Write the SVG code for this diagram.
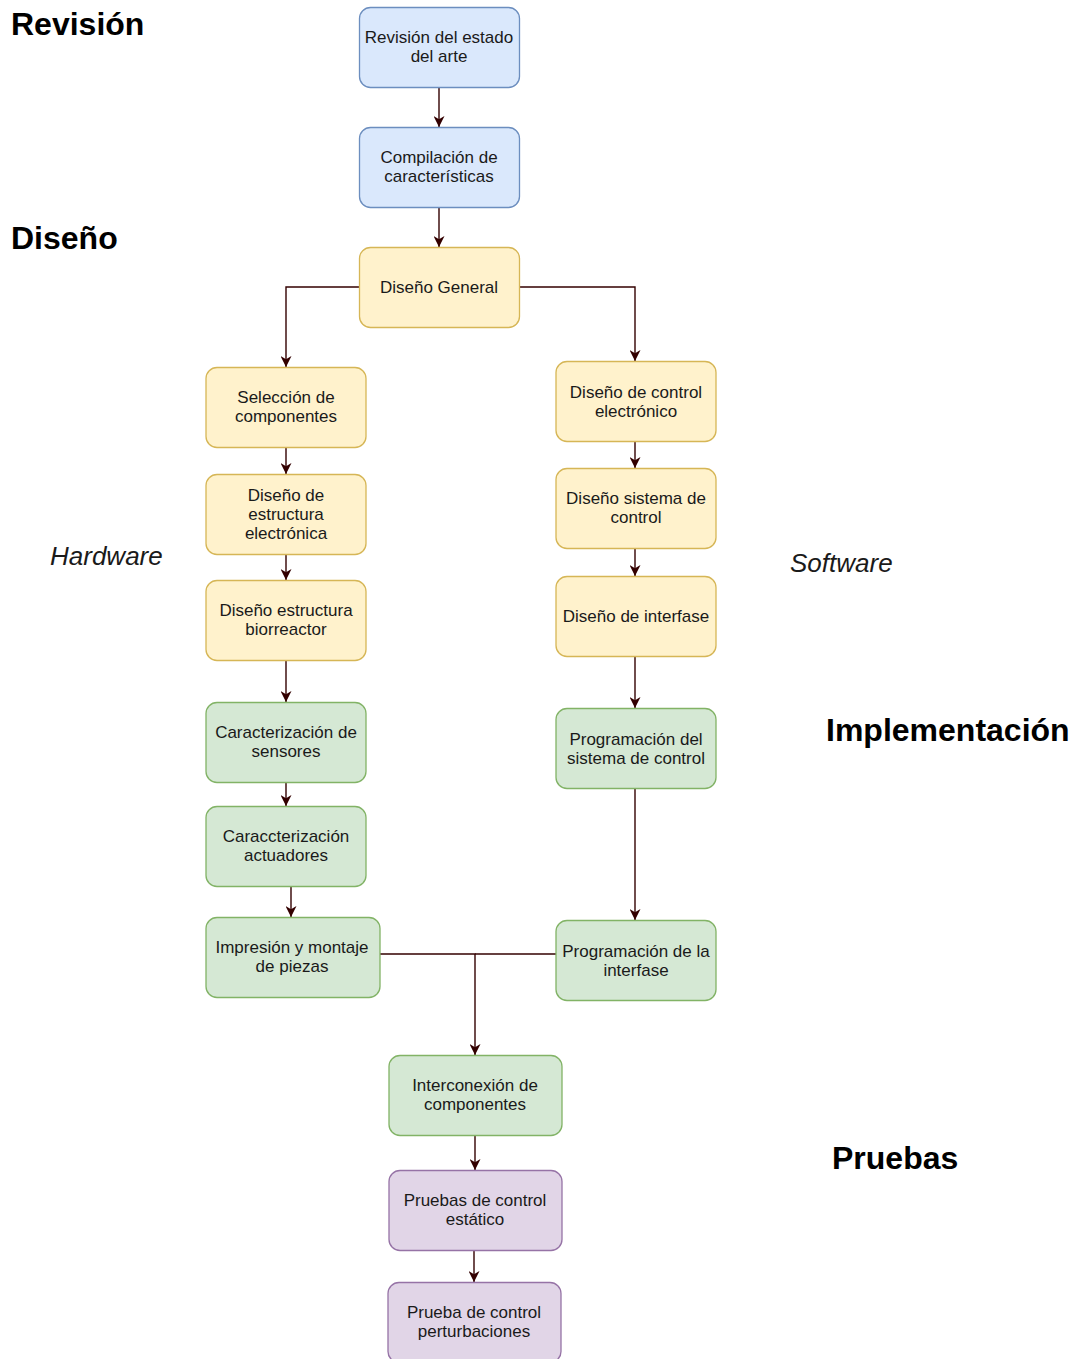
<svg xmlns="http://www.w3.org/2000/svg" width="1078" height="1359" viewBox="0 0 1078 1359">
<style>
.n rect{stroke-width:1.3}
.blue rect{fill:#dae8fc;stroke:#6c8ebf}
.yel rect{fill:#fff2cc;stroke:#d6b656}
.grn rect{fill:#d5e8d4;stroke:#82b366}
.pur rect{fill:#e1d5e7;stroke:#9673a6}
.n text{font-family:"Liberation Sans",Arial,sans-serif;font-size:17px;fill:#1a1a1a;text-anchor:middle}
.h{font-family:"Liberation Sans",Arial,sans-serif;font-size:32px;font-weight:bold;fill:#000}
.it{font-family:"Liberation Sans",Arial,sans-serif;font-size:26px;font-style:italic;fill:#1a1a1a}
#edges path{fill:none;stroke:#330000;stroke-width:1.4}
</style>
<defs>
<marker id="arr" viewBox="0 0 10 10" refX="10" refY="5" markerWidth="11" markerHeight="11" markerUnits="userSpaceOnUse" orient="auto">
<path d="M0,0 L10,5 L0,10 L3,5 Z" fill="#330000"/>
</marker>
</defs>
<rect width="1078" height="1359" fill="#fff"/>

<text class="h" x="11" y="35">Revisión</text>
<text class="h" x="11" y="249">Diseño</text>
<text class="it" x="50" y="565">Hardware</text>
<text class="it" x="790" y="572">Software</text>
<text class="h" x="826" y="741">Implementación</text>
<text class="h" x="832" y="1169">Pruebas</text>

<g id="edges">
<path d="M439,87 V127" marker-end="url(#arr)"/>
<path d="M439,207 V247" marker-end="url(#arr)"/>
<path d="M359,287 H286 V367" marker-end="url(#arr)"/>
<path d="M520,287 H635 V361" marker-end="url(#arr)"/>
<path d="M286,447 V474" marker-end="url(#arr)"/>
<path d="M286,554 V580" marker-end="url(#arr)"/>
<path d="M286,660 V702" marker-end="url(#arr)"/>
<path d="M286,782 V806" marker-end="url(#arr)"/>
<path d="M291,886 V917" marker-end="url(#arr)"/>
<path d="M635,441 V468" marker-end="url(#arr)"/>
<path d="M635,548 V576" marker-end="url(#arr)"/>
<path d="M635,656 V708" marker-end="url(#arr)"/>
<path d="M635,788 V920" marker-end="url(#arr)"/>
<path d="M380,954 H475 V1055" marker-end="url(#arr)"/>
<path d="M556,954 H475"/>
<path d="M475,1135 V1170" marker-end="url(#arr)"/>
<path d="M474,1250 V1282" marker-end="url(#arr)"/>
</g>

<g id="n1" class="n blue"><rect x="359.5" y="7.5" width="160" height="80" rx="11"/><text x="439" y="43">Revisión del estado</text><text x="439" y="62">del arte</text></g>
<g id="n2" class="n blue"><rect x="359.5" y="127.5" width="160" height="80" rx="11"/><text x="439" y="163">Compilación de</text><text x="439" y="182">características</text></g>
<g id="n3" class="n yel"><rect x="359.5" y="247.5" width="160" height="80" rx="11"/><text x="439" y="292.5">Diseño General</text></g>

<g id="n4" class="n yel"><rect x="206" y="367.5" width="160" height="80" rx="11"/><text x="286" y="403">Selección de</text><text x="286" y="422">componentes</text></g>
<g id="n5" class="n yel"><rect x="206" y="474.5" width="160" height="80" rx="11"/><text x="286" y="500.5">Diseño de</text><text x="286" y="519.5">estructura</text><text x="286" y="538.5">electrónica</text></g>
<g id="n6" class="n yel"><rect x="206" y="580.5" width="160" height="80" rx="11"/><text x="286" y="616">Diseño estructura</text><text x="286" y="635">biorreactor</text></g>
<g id="n7" class="n grn"><rect x="206" y="702.5" width="160" height="80" rx="11"/><text x="286" y="738">Caracterización de</text><text x="286" y="757">sensores</text></g>
<g id="n8" class="n grn"><rect x="206" y="806.5" width="160" height="80" rx="11"/><text x="286" y="842">Caraccterización</text><text x="286" y="861">actuadores</text></g>
<g id="n9" class="n grn"><rect x="206" y="917.5" width="174" height="80" rx="11"/><text x="292" y="953">Impresión y montaje</text><text x="292" y="972">de piezas</text></g>

<g id="n10" class="n yel"><rect x="556" y="361.5" width="160" height="80" rx="11"/><text x="636" y="397.5">Diseño de control</text><text x="636" y="416.5">electrónico</text></g>
<g id="n11" class="n yel"><rect x="556" y="468.5" width="160" height="80" rx="11"/><text x="636" y="504">Diseño sistema de</text><text x="636" y="523">control</text></g>
<g id="n12" class="n yel"><rect x="556" y="576.5" width="160" height="80" rx="11"/><text x="636" y="622">Diseño de interfase</text></g>
<g id="n13" class="n grn"><rect x="556" y="708.5" width="160" height="80" rx="11"/><text x="636" y="745">Programación del</text><text x="636" y="764">sistema de control</text></g>
<g id="n14" class="n grn"><rect x="556" y="920.5" width="160" height="80" rx="11"/><text x="636" y="957">Programación de la</text><text x="636" y="976">interfase</text></g>

<g id="n15" class="n grn"><rect x="389" y="1055.5" width="173" height="80" rx="11"/><text x="475" y="1091">Interconexión de</text><text x="475" y="1110">componentes</text></g>
<g id="n16" class="n pur"><rect x="389" y="1170.5" width="173" height="80" rx="11"/><text x="475" y="1206">Pruebas de control</text><text x="475" y="1225">estático</text></g>
<g id="n17" class="n pur"><rect x="388" y="1282.5" width="173" height="80" rx="11"/><text x="474" y="1318">Prueba de control</text><text x="474" y="1337">perturbaciones</text></g>
</svg>
